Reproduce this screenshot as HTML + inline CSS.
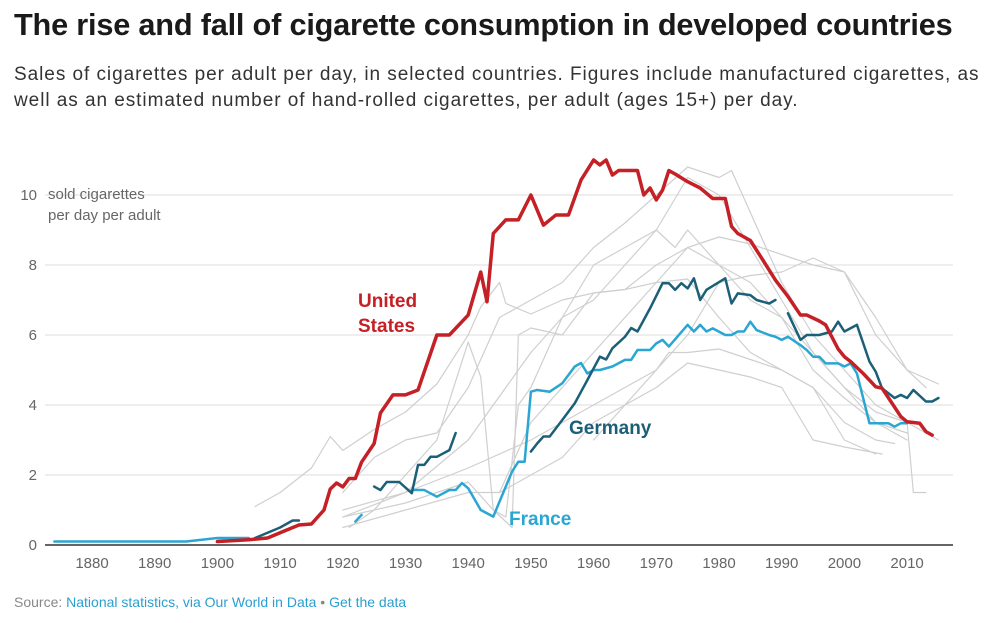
<!DOCTYPE html>
<html><head><meta charset="utf-8">
<style>
body{margin:0;background:#fff;width:997px;height:623px;overflow:hidden;font-family:"Liberation Sans",sans-serif;}
h1{position:absolute;left:14px;top:7px;margin:0;font-size:30.7px;font-weight:bold;color:#1a1a1a;letter-spacing:-0.2px;white-space:nowrap}
.sub{position:absolute;left:14px;top:62px;width:980px;font-size:19px;letter-spacing:0.95px;line-height:26px;color:#333;white-space:nowrap}
.src{position:absolute;left:14px;top:594px;font-size:14px;color:#888}
.src span{color:#2a9fd0}
svg{position:absolute;left:0;top:0}
</style></head><body>
<h1>The rise and fall of cigarette consumption in developed countries</h1>
<div class="sub">Sales of cigarettes per adult per day, in selected countries. Figures include manufactured cigarettes, as<br>well as an estimated number of hand-rolled cigarettes, per adult (ages 15+) per day.</div>
<svg id="chart" width="997" height="623"></svg>
<div class="src">Source: <span>National statistics, via Our World in Data</span> • <span>Get the data</span></div>
<script>
const xTicks=[1880,1890,1900,1910,1920,1930,1940,1950,1960,1970,1980,1990,2000,2010];
const yTicks=[0,2,4,6,8,10];
const usYears=[1900,1905,1908,1910,1913,1915,1917,1918,1919,1920,1921,1922,1923,1925,1926,1928,1930,1932,1935,1937,1940,1942,1943,1944,1946,1948,1950,1952,1954,1955,1956,1958,1960,1961,1962,1963,1964,1965,1967,1968,1969,1970,1971,1972,1973,1975,1977,1979,1981,1982,1983,1985,1987,1989,1991,1993,1994,1996,1997,1999,2000,2001,2003,2005,2006,2009,2010,2012,2013,2014];
const usVals=[0.1,0.15,0.2,0.35,0.57,0.6,1.0,1.6,1.77,1.66,1.9,1.9,2.37,2.9,3.77,4.29,4.29,4.43,6.0,6.0,6.57,7.8,6.95,8.9,9.29,9.29,10.0,9.14,9.43,9.43,9.43,10.43,11.0,10.86,11.0,10.57,10.7,10.7,10.7,10.0,10.2,9.86,10.14,10.7,10.6,10.38,10.2,9.9,9.9,9.1,8.9,8.7,8.14,7.57,7.1,6.57,6.57,6.4,6.29,5.6,5.38,5.24,4.9,4.52,4.48,3.67,3.52,3.48,3.24,3.14];
const deYears1=[1906,1908,1910,1912,1913];
const deVals1=[0.2,0.35,0.5,0.7,0.7];
const deYears2=[1925,1926,1927,1929,1931,1932,1933,1934,1935,1937,1938];
const deVals2=[1.67,1.57,1.8,1.8,1.48,2.29,2.29,2.52,2.52,2.71,3.2];
const deYears3=[1950,1951,1952,1953,1955,1957,1958,1959,1961,1962,1963,1965,1966,1967,1969,1971,1972,1973,1974,1975,1976,1977,1978,1981,1982,1983,1985,1986,1988,1989];
const deVals3=[2.67,2.9,3.1,3.1,3.57,4.05,4.38,4.71,5.38,5.3,5.62,5.95,6.2,6.1,6.76,7.48,7.48,7.29,7.48,7.33,7.62,7.0,7.29,7.62,6.9,7.19,7.14,7.0,6.9,7.0];
const deYears4=[1991,1993,1994,1996,1998,1999,2000,2002,2004,2005,2006,2008,2009,2010,2011,2013,2014,2015];
const deVals4=[6.62,5.86,6.0,6.0,6.1,6.38,6.1,6.29,5.24,4.95,4.48,4.2,4.29,4.2,4.43,4.1,4.1,4.2];
const frYears1=[1874,1895,1900,1905];
const frVals1=[0.1,0.1,0.2,0.2];
const frYears2=[1922,1923];
const frVals2=[0.67,0.86];
const frYears3=[1931,1933,1935,1937,1938,1939,1940,1942,1944,1947,1948,1949,1950,1951,1953,1955,1957,1958,1959,1960,1961,1963,1965,1966,1967,1969,1970,1971,1972,1975,1976,1977,1978,1979,1981,1982,1983,1984,1985,1986,1988,1989,1990,1991,1993,1994,1995,1996,1997,1999,2000,2001,2002,2004,2007,2008,2009,2010];
const frVals3=[1.57,1.57,1.38,1.57,1.57,1.77,1.62,1.0,0.81,2.1,2.38,2.38,4.38,4.43,4.38,4.62,5.1,5.2,4.9,5.0,5.0,5.1,5.29,5.29,5.57,5.57,5.76,5.86,5.67,6.29,6.1,6.29,6.1,6.19,6.0,6.0,6.1,6.1,6.38,6.14,6.0,5.95,5.86,5.95,5.71,5.57,5.38,5.38,5.19,5.19,5.1,5.19,4.9,3.48,3.48,3.38,3.48,3.48];
const grayYears=[
[1920,1930,1940,1950,1955,1960,1965,1970,1975,1980,1985,1990,1995,2000,2005,2010,2011,2013],
[1920,1925,1930,1935,1940,1945,1950,1955,1960,1965,1970,1975,1980,1982,1985,1990,1995,2000,2005,2010,2015],
[1906,1910,1915,1918,1920,1925,1930,1935,1940,1942,1945,1946,1950,1955,1960,1965,1970,1975,1980,1985,1990,1995,2000,2005],
[1920,1930,1940,1944,1947,1948,1950,1955,1960,1965,1970,1975,1980,1985,1990,1995,2000,2005,2010,2015],
[1921,1925,1930,1935,1940,1942,1944,1946,1948,1950,1955,1960,1965,1970,1973,1975,1980,1985,1990,1995,2000,2005,2010],
[1920,1930,1940,1945,1950,1955,1960,1965,1970,1975,1980,1985,1990,1995,2000,2006],
[1920,1930,1940,1950,1955,1960,1965,1970,1972,1975,1980,1985,1990,1995,2000,2005,2008],
[1945,1950,1955,1960,1965,1970,1975,1980,1985,1990,1995,2000,2005,2010],
[1960,1965,1970,1975,1980,1985,1990,1995,2000,2005,2010,2013]];
const grayVals=[
[1.0,1.5,3.0,5.5,6.5,7.0,8.0,9.0,10.5,10.0,8.5,7.0,5.5,4.5,3.8,3.5,1.5,1.5],
[1.5,2.5,3.0,3.2,4.5,6.5,7.0,7.5,8.5,9.2,10.0,10.8,10.5,10.7,9.5,7.5,6.0,5.0,4.0,3.5,3.0],
[1.1,1.5,2.2,3.1,2.7,3.3,3.8,4.6,6.0,6.8,7.5,6.9,6.6,7.0,7.2,7.3,7.5,7.6,6.5,5.5,5.0,4.5,3.0,2.6],
[0.8,1.2,1.8,1.0,0.5,6.0,6.2,6.0,7.2,7.3,8.0,8.5,8.8,8.6,8.3,8.0,7.8,6.0,5.0,4.6],
[0.5,1.0,2.0,3.0,5.8,4.8,1.0,0.8,4.0,4.5,6.5,8.0,8.5,9.0,8.5,9.0,8.0,7.5,6.5,5.5,4.5,3.5,3.0],
[0.5,1.0,1.5,1.5,2.0,2.5,3.5,4.0,4.5,5.2,5.0,4.8,4.5,3.0,2.8,2.6],
[0.8,1.5,2.2,3.0,3.5,4.0,4.5,5.0,5.5,5.5,5.6,5.3,5.0,4.5,3.5,3.0,2.9],
[1.5,3.5,4.5,5.5,6.5,7.5,8.5,8.0,7.0,6.5,5.0,4.2,3.5,3.2],
[3.0,4.0,5.0,6.0,7.5,7.7,7.8,8.2,7.8,6.5,5.0,4.5]];

const NS='http://www.w3.org/2000/svg';
const svg=document.getElementById('chart');
const X=y=>92+(y-1880)*6.27;
const Y=v=>545-v*35;
function mk(t,a){const e=document.createElementNS(NS,t);for(const k in a)e.setAttribute(k,a[k]);svg.appendChild(e);return e;}
yTicks.forEach(t=>{
  if(t>0){const g=mk('line',{x1:45,x2:953,y1:Y(t),y2:Y(t),stroke:'#ddd','stroke-width':1});
  
  }
  const l=mk('text',{x:37,y:Y(t)+5,'text-anchor':'end','font-size':15,fill:'#666'});l.textContent=t;
  
  
});
xTicks.forEach(t=>{
  const l=mk('text',{x:X(t),y:568,'text-anchor':'middle','font-size':15,fill:'#666'});l.textContent=t;
  
  
});
const base=mk('line',{x1:45,x2:953,y1:545,y2:545,stroke:'#333','stroke-width':1.5});


function line(ys,vs,col,w,name){
  const p=mk('polyline',{points:ys.map((y,i)=>X(y)+','+Y(vs[i])).join(' '),fill:'none',stroke:col,'stroke-width':w,'stroke-linejoin':'round','stroke-linecap':'round'});
  
  
}
grayYears.forEach((ys,i)=>line(ys,grayVals[i],'#cfcfcf',1.2,'country-line-gray-'+i));
line(frYears1,frVals1,'#2aa6d2',2.5,'france-line');
line(frYears2,frVals2,'#2aa6d2',2.5,'france-line');
line(frYears3,frVals3,'#2aa6d2',2.5,'france-line');
line(deYears1,deVals1,'#1c5f78',2.5,'germany-line');
line(deYears2,deVals2,'#1c5f78',2.5,'germany-line');
line(deYears3,deVals3,'#1c5f78',2.5,'germany-line');
line(deYears4,deVals4,'#1c5f78',2.5,'germany-line');
line(usYears,usVals,'#c42026',3.5,'united-states-line');
function txt(x,y,s,col,name,size,bold){const t=mk('text',{x:x,y:y,'font-size':size,fill:col,'font-weight':bold?'bold':'normal'});t.textContent=s;
  
  }
txt(48,199,'sold cigarettes','#666','y-axis-title',15,false);
txt(48,220,'per day per adult','#666','y-axis-title-line2',15,false);
txt(358,307,'United','#c42026','label-united-states',19,true);
txt(358,332,'States','#c42026','label-united-states-line2',19,true);
txt(569,434,'Germany','#1c5f78','label-germany',19,true);
txt(509,525,'France','#2aa6d2','label-france',19,true);
</script>
</body></html>
